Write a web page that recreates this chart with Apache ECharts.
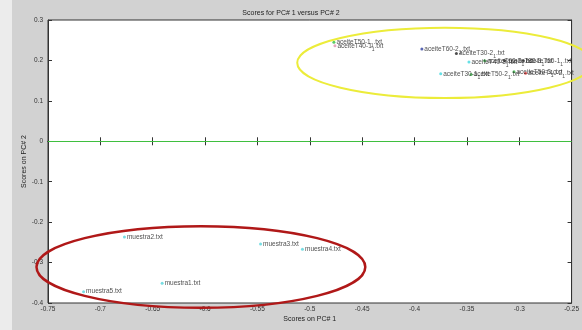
<!DOCTYPE html>
<html>
<head>
<meta charset="utf-8">
<script src="https://cdn.jsdelivr.net/npm/echarts@6/dist/echarts.min.js"></script>
<style>
html,body{margin:0;padding:0;background:#fff;}
#c{width:582px;height:330px;}
</style>
</head>
<body>
<div id="c"></div>
<script>
// ---- data ----
const sampleNames = [
  'muestra1.txt','muestra2.txt','muestra3.txt','muestra4.txt','muestra5.txt',
  'aceiteT50-1_1.txt','aceiteT40-1_1.txt','aceiteT60-2_1.txt','aceiteT30-2_1.txt',
  'aceiteT40-3_1.txt','aceiteT60-3_1.txt','aceiteT30-3_1.txt','aceiteT60-1_1.txt',
  'aceiteT30-1_1.txt','aceiteT50-2_1.txt','aceiteT50-3_1.txt','aceiteT40-2_1.txt'
];
const pc1 = [-0.641,-0.677,-0.547,-0.507,-0.716,
  -0.477,-0.476,-0.393,-0.360,
  -0.348,-0.333,-0.314,-0.296,
  -0.375,-0.346,-0.305,-0.294];
const pc2 = [-0.351,-0.237,-0.254,-0.267,-0.372,
  0.245,0.236,0.228,0.217,
  0.196,0.199,0.199,0.199,
  0.167,0.165,0.172,0.168];
const pointColors = ['#55d4dc','#55d4dc','#55d4dc','#55d4dc','#55d4dc',
  '#2fbf3f','#e090b0','#3040a0','#202020',
  '#40d8e0','#30b040','#303030','#303030',
  '#40d8e0','#30b040','#30b040','#e03030'];
const xTicks = {min:-0.75, max:-0.25, step:0.05};
const yTicks = {min:-0.4, max:0.3, step:0.1};
// hand-drawn group outlines: [centerPC1, centerPC2, radiusPC1, radiusPC2]
const ellipseCenterX = [-0.371, -0.604];
const ellipseCenterY = [0.194, -0.311];
const ellipseRadiusX = [0.141, 0.157];
const ellipseRadiusY = [0.087, 0.101];
const ellipseColors = ['#ecec3a', '#b01818'];

const chart = echarts.init(document.getElementById('c'));
const FONT = 'Liberation Sans, Arial, sans-serif';

function labelFmt(p){
  const n = sampleNames[p.dataIndex];
  const i = n.indexOf('_');
  if (i < 0) return '{a|' + n + '}';
  const base = n.slice(0, i), rest = n.slice(i + 1);
  return '{a|' + base + '}{s|' + rest.charAt(0) + '}{a|' + rest.slice(1) + '}';
}

const axisBase = {
  type:'value',
  axisLine:{show:true, lineStyle:{color:'#333', width:1}},
  axisTick:{show:true, inside:true, length:4, lineStyle:{color:'#333'}},
  splitLine:{show:false}
};

chart.setOption({
  backgroundColor:'#d2d2d2',
  animation:false,
  title:{text:'Scores for PC# 1 versus PC# 2', left:'center', top:5,
    textStyle:{fontSize:7, fontWeight:'normal', color:'#222', fontFamily:FONT}},
  graphic:[{type:'rect', left:0, top:0, shape:{width:12, height:330}, style:{fill:'#ececec'}, z:-1}],
  grid:{left:48, right:7, top:20, bottom:27, show:true, backgroundColor:'#fff', borderColor:'#333', borderWidth:1},
  xAxis:[
    Object.assign({}, axisBase, {min:xTicks.min, max:xTicks.max, interval:xTicks.step, position:'bottom',
      name:'Scores on PC# 1', nameLocation:'middle', nameGap:13, nameMoveOverlap:false,
      nameTextStyle:{fontSize:7, color:'#222', fontFamily:FONT},
      axisLabel:{fontSize:6.5, color:'#333', margin:3, fontFamily:FONT,
        formatter:v=>String(+v.toFixed(2))}}),
    Object.assign({}, axisBase, {min:xTicks.min, max:xTicks.max, interval:xTicks.step, position:'top',
      axisLabel:{show:false}})
  ],
  yAxis:[
    Object.assign({}, axisBase, {min:yTicks.min, max:yTicks.max, interval:yTicks.step, position:'left',
      name:'Scores on PC# 2', nameLocation:'middle', nameGap:20, nameRotate:90, nameMoveOverlap:false,
      nameTextStyle:{fontSize:7, color:'#222', fontFamily:FONT},
      axisLabel:{fontSize:6.5, color:'#333', margin:5, fontFamily:FONT,
        formatter:v=>String(+v.toFixed(1))}}),
    Object.assign({}, axisBase, {min:yTicks.min, max:yTicks.max, interval:yTicks.step, position:'right',
      axisLabel:{show:false}})
  ],
  series:[
    {
      type:'scatter',
      data:pc1.map((x,i)=>[x, pc2[i]]),
      symbol:'circle', symbolSize:3,
      itemStyle:{color:p=>pointColors[p.dataIndex]},
      label:{show:true, position:'right', distance:1, formatter:labelFmt, color:'#222',
        rich:{
          a:{fontSize:6.5, color:'#222', fontFamily:FONT},
          s:{fontSize:5, color:'#222', fontFamily:FONT, padding:[7,0,0,0]}
        }},
      markLine:{silent:true, symbol:'none', label:{show:false},
        lineStyle:{color:'#3fbf3f', width:1, type:'solid'},
        data:[{yAxis:0}]},
      z:3
    },
    {
      type:'custom',
      clip:false,
      silent:true,
      data:ellipseCenterX.map((x,i)=>[x, ellipseCenterY[i], ellipseRadiusX[i], ellipseRadiusY[i]]),
      renderItem:function(params, api){
        const c = api.coord([api.value(0), api.value(1)]);
        const s = api.size([api.value(2), api.value(3)]);
        return {type:'ellipse', shape:{cx:c[0], cy:c[1], rx:s[0], ry:s[1]},
          style:{fill:null, stroke:ellipseColors[params.dataIndex], lineWidth:params.dataIndex===0?2:2.5}};
      },
      z:5
    }
  ]
});
</script>
</body>
</html>
